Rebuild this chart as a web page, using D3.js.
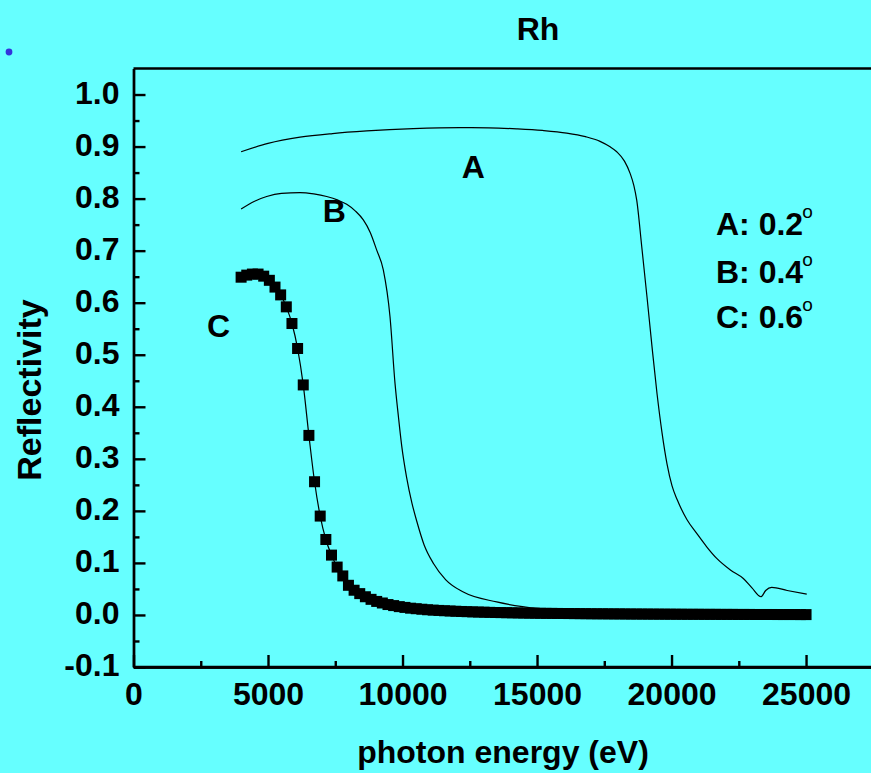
<!DOCTYPE html>
<html>
<head>
<meta charset="utf-8">
<script src="https://cdn.jsdelivr.net/npm/d3@7"></script>
<style>
  html, body { margin: 0; padding: 0; background: #66ffff; }
  svg { display: block; }
  text { font-family: "Liberation Sans", Arial, sans-serif; font-weight: bold; fill: #000; }
</style>
</head>
<body>
<script>
// ---------------- data ----------------
const energyA = [4000, 5000, 6190, 7400, 8669, 10400, 12138, 13200, 14245, 15200, 16104, 16800, 17342, 17700, 17963, 18250, 18457, 18600, 18706, 18892, 19090, 19275, 19461, 19647, 19833, 20019, 20216, 20576, 20937, 21300, 21680, 22200, 22669, 22990, 23327, 23500, 23725, 24300, 25026];
const reflA   = [0.890, 0.906, 0.918, 0.925, 0.930, 0.9345, 0.9365, 0.936, 0.934, 0.931, 0.926, 0.919, 0.910, 0.900, 0.890, 0.872, 0.849, 0.825, 0.797, 0.708, 0.610, 0.515, 0.425, 0.350, 0.290, 0.248, 0.2207, 0.183, 0.1567, 0.1315, 0.1087, 0.086, 0.070, 0.052, 0.035, 0.047, 0.053, 0.047, 0.040];

const energyB = [4000, 4500, 4950, 5500, 6190, 6700, 7182, 7600, 7926, 8250, 8543, 8800, 9041, 9286, 9535, 9721, 9850, 9970, 10150, 10350, 10530, 10800, 11150, 11600, 12260, 13500, 15100, 16500, 18000, 20000, 22500, 25000];
const reflB   = [0.780, 0.795, 0.804, 0.810, 0.8115, 0.809, 0.804, 0.797, 0.789, 0.776, 0.759, 0.735, 0.701, 0.663, 0.573, 0.445, 0.380, 0.325, 0.265, 0.215, 0.180, 0.135, 0.099, 0.068, 0.044, 0.025, 0.012, 0.007, 0.005, 0.004, 0.003, 0.003];

const energyC = [4000, 4210, 4420, 4630, 4840, 5050, 5260, 5470, 5680, 5890,
  6100, 6310, 6520, 6730, 6940, 7150, 7360, 7570, 7780, 7990,
  8200, 8410, 8620, 8830, 9040, 9250, 9460, 9670, 9880, 10090,
  10300, 10510, 10720, 10930, 11140, 11350, 11560, 11770, 11980, 12190,
  12400, 12610, 12820, 13030, 13240, 13450, 13660, 13870, 14080, 14290,
  14500, 14710, 14920, 15130, 15340, 15550, 15760, 15970, 16180, 16390,
  16600, 16810, 17020, 17230, 17440, 17650, 17860, 18070, 18280, 18490,
  18700, 18910, 19120, 19330, 19540, 19750, 19960, 20170, 20380, 20590,
  20800, 21010, 21220, 21430, 21640, 21850, 22060, 22270, 22480, 22690,
  22900, 23110, 23320, 23530, 23740, 23950, 24160, 24370, 24580, 24790, 25000];
const reflC = [0.649, 0.653, 0.655, 0.655, 0.651, 0.643, 0.630, 0.615, 0.592, 0.560,
  0.512, 0.442, 0.345, 0.256, 0.190, 0.145, 0.115, 0.092, 0.075, 0.057,
  0.0475, 0.041, 0.035, 0.030, 0.026, 0.023, 0.020, 0.018, 0.016, 0.0145,
  0.013, 0.012, 0.011, 0.010, 0.0093, 0.0087, 0.0081, 0.0076, 0.0071, 0.0067,
  0.0063, 0.0059, 0.0056, 0.0053, 0.0050, 0.0047, 0.0045, 0.0043, 0.0041, 0.0039,
  0.0037, 0.0035, 0.0034, 0.0032, 0.0031, 0.0030, 0.0029, 0.0028, 0.0027, 0.0026,
  0.0025, 0.0024, 0.0023, 0.0022, 0.0022, 0.0021, 0.0020, 0.0020, 0.0019, 0.0018,
  0.0018, 0.0017, 0.0017, 0.0016, 0.0016, 0.0015, 0.0015, 0.0014, 0.0014, 0.0013,
  0.0013, 0.0013, 0.0012, 0.0012, 0.0012, 0.0011, 0.0011, 0.0011, 0.0010, 0.0010,
  0.0010, 0.0009, 0.0009, 0.0009, 0.0009, 0.0008, 0.0008, 0.0008, 0.0008, 0.0007, 0.0007];

const xMajorTicks = [0, 5000, 10000, 15000, 20000, 25000];
const xMinorTicks = [2500, 7500, 12500, 17500, 22500];
const yMajorTicks = [-0.1, 0.0, 0.1, 0.2, 0.3, 0.4, 0.5, 0.6, 0.7, 0.8, 0.9, 1.0];
const yMinorTicks = [-0.05, 0.05, 0.15, 0.25, 0.35, 0.45, 0.55, 0.65, 0.75, 0.85, 0.95];

const curveLabels = [
  {text: "A", e: 12200, r: 0.839},
  {text: "B", e: 7033, r: 0.7546},
  {text: "C", e: 2732, r: 0.534}
];
const legendItems = ["A: 0.2", "B: 0.4", "C: 0.6"];

// ---------------- drawing ----------------
const W = 871, H = 773;
const svg = d3.select("body").append("svg").attr("width", W).attr("height", H);
svg.append("rect").attr("width", W).attr("height", H).attr("fill", "#66ffff");

const x = d3.scaleLinear().domain([0, 27500]).range([133.5, 873.3]);
const y = d3.scaleLinear().domain([-0.1, 1.05]).range([667, 68.5]);

// blue dot
svg.append("circle").attr("cx", 9).attr("cy", 52).attr("r", 3.4).attr("fill", "#3434dc");

// title
svg.append("text").attr("x", 538).attr("y", 40).attr("text-anchor", "middle")
  .attr("font-size", 32).text("Rh");

// frame top line
svg.append("line").attr("x1", x(0)).attr("x2", W + 5).attr("y1", y(1.05)).attr("y2", y(1.05))
  .attr("stroke", "#000").attr("stroke-width", 2.4);

const yFmt = d => d.toFixed(1);

// Y axis
const yAxisG = svg.append("g").attr("transform", `translate(${x(0)},0)`);
yAxisG.call(d3.axisLeft(y).tickValues(yMajorTicks).tickFormat(yFmt)
  .tickSize(-12).tickSizeOuter(0).tickPadding(14));
const yMinorG = svg.append("g").attr("transform", `translate(${x(0)},0)`);
yMinorG.call(d3.axisLeft(y).tickValues(yMinorTicks).tickFormat("").tickSize(-6).tickSizeOuter(0));

// X axis
const xAxisG = svg.append("g").attr("transform", `translate(0,${y(-0.1)})`);
xAxisG.call(d3.axisBottom(x).tickValues(xMajorTicks).tickFormat(d => String(d))
  .tickSize(-12).tickSizeOuter(0).tickPadding(15));
const xMinorG = svg.append("g").attr("transform", `translate(0,${y(-0.1)})`);
xMinorG.call(d3.axisBottom(x).tickValues(xMinorTicks).tickFormat("").tickSize(-6).tickSizeOuter(0));

[yAxisG, yMinorG, xAxisG, xMinorG].forEach(g => {
  g.selectAll("path.domain").attr("stroke", "#000").attr("stroke-width", 2.4);
  g.selectAll(".tick line").attr("stroke", "#000").attr("stroke-width", 2.4);
  g.selectAll(".tick text").attr("font-size", 32).attr("fill", "#000")
    .attr("font-family", '"Liberation Sans", Arial, sans-serif').attr("font-weight", "bold");
});
yAxisG.selectAll(".tick text").attr("dy", "0.27em");
// extend bottom axis line to the right edge
svg.append("line").attr("x1", x(0)).attr("x2", W + 5).attr("y1", y(-0.1)).attr("y2", y(-0.1))
  .attr("stroke", "#000").attr("stroke-width", 2.4);

// axis titles
svg.append("text").attr("x", 503).attr("y", 763).attr("text-anchor", "middle")
  .attr("font-size", 32).text("photon energy (eV)");
svg.append("text").attr("transform", "translate(41,390) rotate(-90)").attr("text-anchor", "middle")
  .attr("font-size", 34).text("Reflectivity");

// curves
const line = d3.line().x(d => x(d[0])).y(d => y(d[1])).curve(d3.curveMonotoneX);
const dataA = energyA.map((e, i) => [e, reflA[i]]);
const dataB = energyB.map((e, i) => [e, reflB[i]]);
const dataC = energyC.map((e, i) => [e, reflC[i]]);

[dataA, dataB, dataC].forEach(d => {
  svg.append("path").datum(d).attr("d", line).attr("fill", "none")
    .attr("stroke", "#000").attr("stroke-width", 1.2);
});

const ms = 11;
svg.append("g").selectAll("rect").data(dataC).join("rect")
  .attr("x", d => x(d[0]) - ms / 2).attr("y", d => y(d[1]) - ms / 2)
  .attr("width", ms).attr("height", ms).attr("fill", "#000");

// curve labels
svg.append("g").selectAll("text").data(curveLabels).join("text")
  .attr("x", d => x(d.e)).attr("y", d => y(d.r)).attr("font-size", 32).text(d => d.text);

// legend
const legBase = [235, 283.3, 328.3];
legendItems.forEach((t, i) => {
  const tx = svg.append("text").attr("x", 716).attr("y", legBase[i]).attr("font-size", 32);
  tx.append("tspan").text(t);
  tx.append("tspan").attr("dx", -1).attr("dy", -17).attr("font-size", 19)
    .attr("font-weight", "normal").text("o");
});
</script>
</body>
</html>
